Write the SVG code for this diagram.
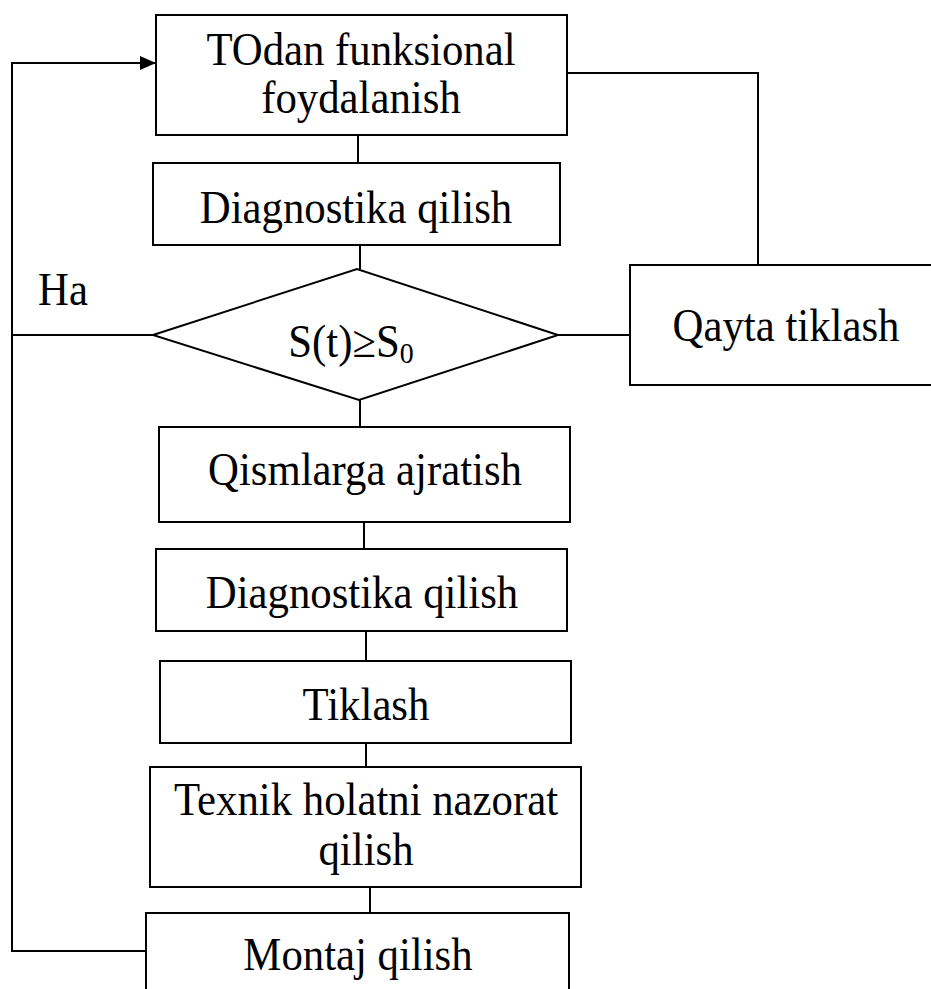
<svg xmlns="http://www.w3.org/2000/svg" width="931" height="989" viewBox="0 0 931 989">
<defs>
<style>
.box{fill:#fff;stroke:#000;stroke-width:2}
.ln{fill:none;stroke:#000;stroke-width:2}
.t{font-family:"Liberation Serif","Times New Roman",serif;font-size:46px;fill:#000;text-anchor:middle}
</style>
<marker id="arr" markerWidth="16" markerHeight="14" refX="15" refY="7" orient="auto" markerUnits="userSpaceOnUse">
<path d="M0,0 L16,7 L0,14 Z" fill="#000"/>
</marker>
</defs>
<rect width="931" height="989" fill="#fff"/>
<g id="connectors">
<path class="ln" d="M146,951 H12 V63 H155" stroke-width="2.5" marker-end="url(#arr)"/>
<path class="ln" d="M567,73 H758 V265"/>
<line class="ln" x1="358" y1="135" x2="358" y2="163"/>
<line class="ln" x1="360" y1="245" x2="360" y2="269"/>
<line class="ln" x1="12" y1="335" x2="153" y2="335"/>
<line class="ln" x1="558" y1="335" x2="630" y2="335"/>
<line class="ln" x1="360" y1="400" x2="360" y2="427"/>
<line class="ln" x1="364" y1="522" x2="364" y2="549"/>
<line class="ln" x1="366" y1="631" x2="366" y2="661"/>
<line class="ln" x1="366" y1="743" x2="366" y2="767"/>
<line class="ln" x1="370" y1="887" x2="370" y2="913"/>
</g>
<g id="label-ha"><text class="t" transform="translate(63 305) scale(0.93 1)">Ha</text></g>
<g id="n-todan">
<rect class="box" x="156" y="15" width="411" height="120"/>
<text class="t" transform="translate(361 65) scale(0.93 1)">TOdan funksional</text>
<text class="t" transform="translate(361 113) scale(0.93 1)">foydalanish</text>
</g>
<g id="n-diag1">
<rect class="box" x="153" y="163" width="407" height="82"/>
<text class="t" transform="translate(356 223) scale(0.93 1)">Diagnostika qilish</text>
</g>
<g id="n-decision">
<polygon class="box" points="153,335 357,269 558,335 359,400"/>
<text class="t" transform="translate(351 357) scale(0.93 1)">S(t)≥S<tspan font-size="30" dy="6">0</tspan></text>
</g>
<g id="n-qayta">
<rect class="box" x="630" y="265" width="310" height="120"/>
<text class="t" transform="translate(786 341) scale(0.93 1)">Qayta tiklash</text>
</g>
<g id="n-qism">
<rect class="box" x="159" y="427" width="411" height="95"/>
<text class="t" transform="translate(365 485) scale(0.93 1)">Qismlarga ajratish</text>
</g>
<g id="n-diag2">
<rect class="box" x="156" y="549" width="411" height="82"/>
<text class="t" transform="translate(362 608) scale(0.93 1)">Diagnostika qilish</text>
</g>
<g id="n-tiklash">
<rect class="box" x="160" y="661" width="411" height="82"/>
<text class="t" transform="translate(366 720) scale(0.93 1)">Tiklash</text>
</g>
<g id="n-texnik">
<rect class="box" x="150" y="767" width="431" height="120"/>
<text class="t" transform="translate(366 815) scale(0.93 1)">Texnik holatni nazorat</text>
<text class="t" transform="translate(366 865) scale(0.93 1)">qilish</text>
</g>
<g id="n-montaj">
<rect class="box" x="146" y="913" width="423" height="100"/>
<text class="t" transform="translate(358 970) scale(0.93 1)">Montaj qilish</text>
</g>
</svg>
